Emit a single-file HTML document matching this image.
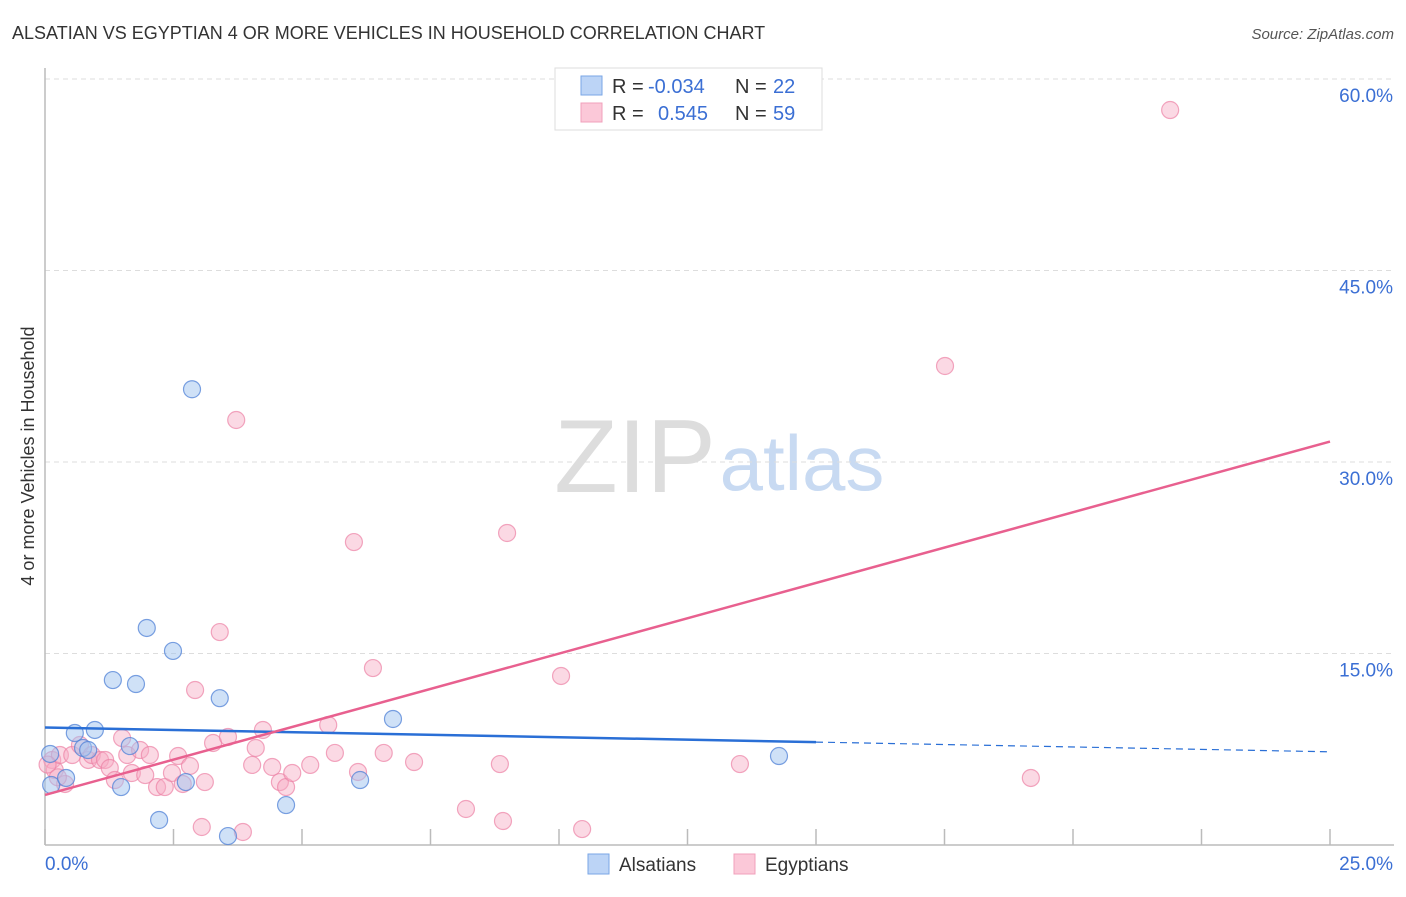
<!DOCTYPE html>
<html><head><meta charset="utf-8"><style>
body{margin:0;background:#fff;font-family:"Liberation Sans",sans-serif;}
svg text{font-family:"Liberation Sans",sans-serif;}
</style></head><body>
<svg id="chart" width="1406" height="892" xmlns="http://www.w3.org/2000/svg">
<text x="12" y="39" font-size="18" fill="#333">ALSATIAN VS EGYPTIAN 4 OR MORE VEHICLES IN HOUSEHOLD CORRELATION CHART</text>
<text x="1394" y="39" font-size="15" fill="#555" font-style="italic" text-anchor="end">Source: ZipAtlas.com</text>
<text x="34" y="456" font-size="18" fill="#333" text-anchor="middle" transform="rotate(-90 34 456)">4 or more Vehicles in Household</text>
<g>
<text x="635" y="492" font-size="104" fill="#ddd" text-anchor="middle" font-family="Liberation Serif,serif">ZIP</text>
<text x="802" y="490" font-size="78" fill="#c8daf2" text-anchor="middle">atlas</text>
</g>
<g id="grid"></g>
<g id="marks"></g>
<g>
<rect x="555" y="68" width="267" height="62" fill="#fff" stroke="#ddd"/>
<rect x="581" y="76" width="21" height="19" fill="#bcd4f6" stroke="#7aa6e6"/>
<rect x="581" y="103" width="21" height="19" fill="#fbc8d8" stroke="#f0a0bb"/>
<text x="612" y="93" font-size="20" fill="#333">R =</text>
<text x="648" y="93" font-size="20" fill="#3b6fd4">-0.034</text>
<text x="735" y="93" font-size="20" fill="#333">N =</text>
<text x="773" y="93" font-size="20" fill="#3b6fd4">22</text>
<text x="612" y="120" font-size="20" fill="#333">R =</text>
<text x="658" y="120" font-size="20" fill="#3b6fd4">0.545</text>
<text x="735" y="120" font-size="20" fill="#333">N =</text>
<text x="773" y="120" font-size="20" fill="#3b6fd4">59</text>
</g>
<g>
<rect x="588" y="854" width="21" height="20" fill="#bcd4f6" stroke="#7aa6e6"/>
<text x="619" y="871" font-size="19" fill="#333">Alsatians</text>
<rect x="734" y="854" width="21" height="20" fill="#fbc8d8" stroke="#f0a0bb"/>
<text x="765" y="871" font-size="19" fill="#333">Egyptians</text>
</g>
</svg>
<script>
const xTicks=[0,2.5,5,7.5,10,12.5,15,17.5,20,22.5,25];
const yTicks=[15,30,45,60];
const yTickLabels=["15.0%","30.0%","45.0%","60.0%"];
const alsX=[0.10,0.12,0.41,0.58,0.74,0.84,0.97,1.32,1.48,1.65,1.77,1.98,2.22,2.49,2.74,2.86,3.40,3.56,4.69,6.13,6.77,14.28];
const alsY=[7.13,4.70,5.25,8.77,7.60,7.44,9.01,12.92,4.54,7.75,12.61,17.0,1.96,15.2,4.93,35.7,11.5,0.70,3.13,5.09,9.87,6.97];
const egyX=[0.14,0.19,0.29,0.39,0.53,0.68,0.84,0.91,1.07,1.17,1.26,1.36,1.50,1.60,1.69,1.85,1.95,2.04,2.18,2.33,2.47,2.59,2.68,2.82,2.92,3.05,3.11,3.27,3.40,3.56,3.72,3.85,4.03,4.10,4.24,4.42,4.57,4.69,4.81,5.16,5.51,5.64,6.01,6.09,6.38,6.59,7.18,8.19,8.85,8.91,8.99,10.04,10.45,13.52,17.51,19.18,21.89,0.05,0.25];
const egyY=[6.66,5.87,7.05,4.78,7.05,7.83,6.66,7.05,6.66,6.66,6.03,5.09,8.38,7.05,5.64,7.44,5.48,7.05,4.54,4.54,5.64,6.97,4.78,6.19,12.14,1.41,4.93,7.99,16.68,8.46,33.29,1.02,6.27,7.60,9.01,6.11,4.93,4.54,5.64,6.27,9.40,7.21,23.73,5.72,13.86,7.21,6.50,2.82,6.34,1.88,24.44,13.24,1.25,6.34,37.52,5.25,57.57,6.3,5.3];
const alsTrend=[9.2,7.3];
const egyTrend=[3.92,31.6];
const NS="http://www.w3.org/2000/svg";
const X=v=>45+v/25*1285;
const Y=v=>845-v/60*766;
function mk(tag,attrs,parent){const e=document.createElementNS(NS,tag);for(const k in attrs)e.setAttribute(k,attrs[k]);parent.appendChild(e);return e;}
const grid=document.getElementById('grid'),marks=document.getElementById('marks');
yTicks.forEach((t,i)=>{
 const l=mk('line',{x1:45,x2:1394,y1:Y(t),y2:Y(t),stroke:'#ddd','stroke-dasharray':'5,4'},grid);
 
 
 const tx=mk('text',{x:1393,y:Y(t)+23,'font-size':19,fill:'#3b6fd4','text-anchor':'end'},grid);
 tx.textContent=yTickLabels[i];
 
 
});
const ax=mk('line',{x1:45,x2:1394,y1:845,y2:845,stroke:'#bbb','stroke-width':1.5},grid);


const ay=mk('line',{x1:45,x2:45,y1:68,y2:845,stroke:'#bbb','stroke-width':1.5},grid);


xTicks.forEach(t=>{
 const l=mk('line',{x1:X(t),x2:X(t),y1:829,y2:845,stroke:'#bbb','stroke-width':1.5},grid);
 
 
});
const xl0=mk('text',{x:45,y:870,'font-size':19,fill:'#3b6fd4'},grid);xl0.textContent='0.0%';


const xl1=mk('text',{x:1393,y:870,'font-size':19,fill:'#3b6fd4','text-anchor':'end'},grid);xl1.textContent='25.0%';


egyX.forEach((x,i)=>{
 const c=mk('circle',{cx:X(x),cy:Y(egyY[i]),r:8.5,fill:'rgba(246,170,196,0.45)',stroke:'rgba(236,130,165,0.7)','stroke-width':1.2},marks);
 
 
});
alsX.forEach((x,i)=>{
 const c=mk('circle',{cx:X(x),cy:Y(alsY[i]),r:8.5,fill:'rgba(160,195,240,0.5)',stroke:'rgba(80,130,215,0.75)','stroke-width':1.2},marks);
 
 
});
const bAt=x=>alsTrend[0]+(alsTrend[1]-alsTrend[0])*x/25;
const b1=mk('line',{x1:X(0),y1:Y(bAt(0)),x2:X(15),y2:Y(bAt(15)),stroke:'#2a6fd6','stroke-width':2.5},marks);


const b2=mk('line',{x1:X(15),y1:Y(bAt(15)),x2:X(25),y2:Y(bAt(25)),stroke:'#2a6fd6','stroke-width':1.2,'stroke-dasharray':'7,5'},marks);


const p=mk('line',{x1:X(0),y1:Y(egyTrend[0]),x2:X(25),y2:Y(egyTrend[1]),stroke:'#e8608f','stroke-width':2.5},marks);


</script>
</body></html>
